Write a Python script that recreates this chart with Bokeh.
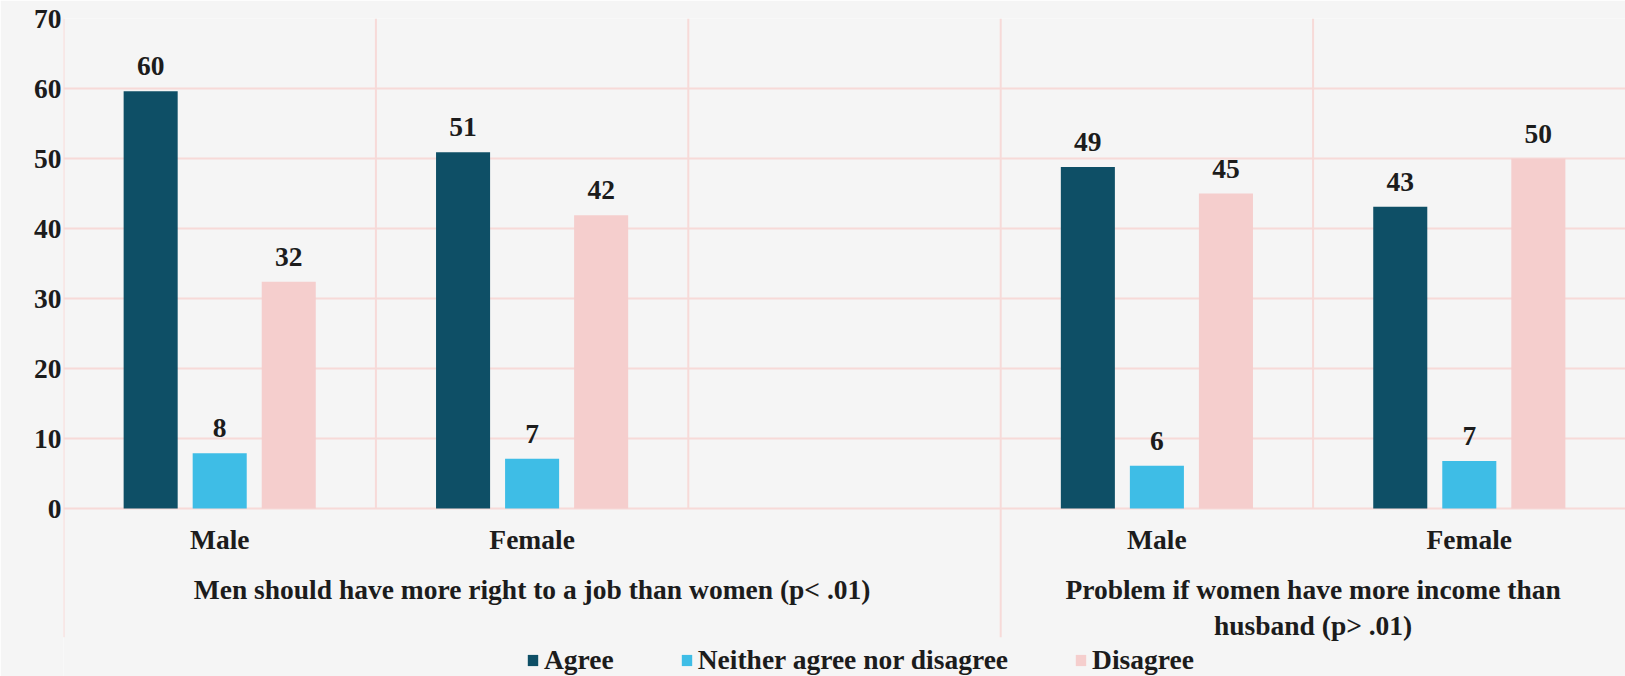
from bokeh.plotting import figure
from bokeh.models import ColumnDataSource, Range1d, FixedTicker, Legend
from bokeh.core.properties import value
from bokeh.embed import file_html
from bokeh.resources import INLINE

# Survey responses (%), by statement and respondent sex
statements = [
    "Men should have more right to a job than women (p< .01)",
    "Problem if women have more income than\nhusband (p> .01)",
]
sexes = ["Male", "Female"]
agree = [59.6, 50.9, 48.8, 43.1]
neither = [7.9, 7.1, 6.1, 6.8]
disagree = [32.4, 41.9, 45.0, 50.0]
series_names = ["Agree", "Neither agree nor disagree", "Disagree"]
y_ticks = [0, 10, 20, 30, 40, 50, 60, 70]

# slots per statement along the category axis (first block keeps one spare slot)
slots_per_statement = [3, 2]

FONT = "Liberation Serif"
FS = "27.5px"
TXT = "#1c1c1c"
BG = "#f5f5f5"
GRID = "#f7dad8"
COLORS = ["#0e4f66", "#3ebde6", "#f5cecd"]

# slot centres for every (statement, sex) bar group
centers = []
block_start = [0]
for n in slots_per_statement:
    block_start.append(block_start[-1] + n)
for b in range(len(statements)):
    for k in range(len(sexes)):
        centers.append(block_start[b] + k + 0.5)
n_slots = block_start[-1]

p = figure(width=1625, height=676, output_backend="svg", toolbar_location=None,
           x_range=Range1d(0, n_slots), y_range=Range1d(-24, 70),
           x_axis_location=None, min_border_left=63, min_border_right=0,
           min_border_top=18, min_border_bottom=0)
p.background_fill_color = BG
p.border_fill_color = BG
p.outline_line_color = None
p.xgrid.visible = False
p.ygrid.ticker = FixedTicker(ticks=y_ticks)
p.ygrid.grid_line_color = GRID
p.ygrid.grid_line_width = 2

yax = p.yaxis[0]
yax.ticker = FixedTicker(ticks=y_ticks)
yax.axis_line_color = None
yax.major_tick_line_color = None
yax.minor_tick_line_color = None
yax.major_tick_in = 0
yax.major_tick_out = 0
yax.major_label_standoff = 2
yax.major_label_text_font = FONT
yax.major_label_text_font_style = "bold"
yax.major_label_text_font_size = FS
yax.major_label_text_color = TXT

# vertical separators: inner ones stop at the baseline, block edges run down through the labels
inner_x, edge_x = [], []
for b in range(len(statements)):
    edge_x.append(block_start[b])
    for k in range(1, slots_per_statement[b]):
        inner_x.append(block_start[b] + k)
p.segment(x0=inner_x, x1=inner_x, y0=[0] * len(inner_x), y1=[70] * len(inner_x),
          line_color=GRID, line_width=2)
p.segment(x0=edge_x, x1=edge_x, y0=[-18.4] * len(edge_x), y1=[70] * len(edge_x),
          line_color=GRID, line_width=2)

offset = 0.221
bar_w = 0.173
renderers = []
for i, (name, vals) in enumerate(zip(series_names, [agree, neither, disagree])):
    xs = [c + (i - 1) * offset for c in centers]
    src = ColumnDataSource(dict(x=xs, top=vals, lab=["%.0f" % v for v in vals]))
    r = p.vbar(x="x", top="top", width=bar_w, bottom=0, source=src,
               fill_color=COLORS[i], line_color=None)
    renderers.append((name, [r]))
    p.text(x="x", y="top", text="lab", source=src, text_align="center",
           text_baseline="middle", y_offset=-25, text_font=value(FONT),
           text_font_style="bold", text_font_size=FS, text_color=TXT)

# sex labels under each bar group
p.text(x=centers, y=[-4.4] * len(centers), text=sexes * len(statements),
       text_align="center", text_baseline="middle", text_font=value(FONT),
       text_font_style="bold", text_font_size=FS, text_color=TXT)

# statement labels under each block
stmt_x = [(block_start[b] + block_start[b + 1]) / 2 for b in range(len(statements))]
p.text(x=stmt_x, y=[-9.4] * len(statements), text=statements,
       text_align="center", text_baseline="top", text_font=value(FONT),
       text_font_style="bold", text_font_size=FS, text_color=TXT,
       text_line_height=1.15)

legend = Legend(items=renderers, orientation="horizontal", location=(463, 0),
                spacing=66, padding=0, margin=0, glyph_width=13, glyph_height=14,
                label_standoff=5, border_line_color=None, background_fill_alpha=0,
                label_text_font=FONT, label_text_font_style="bold",
                label_text_font_size=FS, label_text_color=TXT)
p.add_layout(legend, "center")

open("out.html", "w").write(file_html(p, INLINE))
